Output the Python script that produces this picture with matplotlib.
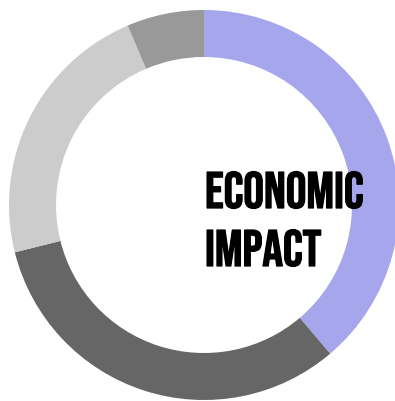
import matplotlib
matplotlib.use("Agg")
import matplotlib.pyplot as plt
import matplotlib.patheffects as pe

# Share of each sector (percent), clockwise from 12 o'clock
sectors = ["Sector A", "Sector B", "Sector C", "Sector D"]
shares = [38.8, 32.3, 22.5, 6.4]
colors = ["#a6a6ec", "#666666", "#cccccc", "#999999"]
title_lines = ["ECONOMIC", "IMPACT"]

W, H = 395, 401
fig = plt.figure(figsize=(W / 100, H / 100), dpi=100)
ax = fig.add_axes([0, 0, 1, 1])
# axes in pixel units, ring centred at (204, 205) from top-left
cx, cy = 204, 205

outer, band = 195, 47
ax.pie(shares, colors=colors, radius=outer, startangle=90, counterclock=False,
       wedgeprops=dict(width=band, linewidth=0), frame=True)
ax.set_xlim(-cx, W - cx)
ax.set_ylim(-(H - cy), cy)
ax.set_aspect("equal")
ax.axis("off")

fams = ["Bebas Neue", "Oswald", "Special Gothic Condensed One", "Liberation Sans Narrow", "DejaVu Sans"]
heavy = [pe.withStroke(linewidth=0.9, foreground="black")]
ax.text(1, -3, title_lines[0], family=fams, fontsize=37, color="black",
        ha="left", va="baseline", zorder=5, path_effects=heavy)
ax.text(1, -61, title_lines[1], family=fams, fontsize=37, color="black",
        ha="left", va="baseline", zorder=5, path_effects=heavy)

fig.savefig("out.png", dpi=100)
